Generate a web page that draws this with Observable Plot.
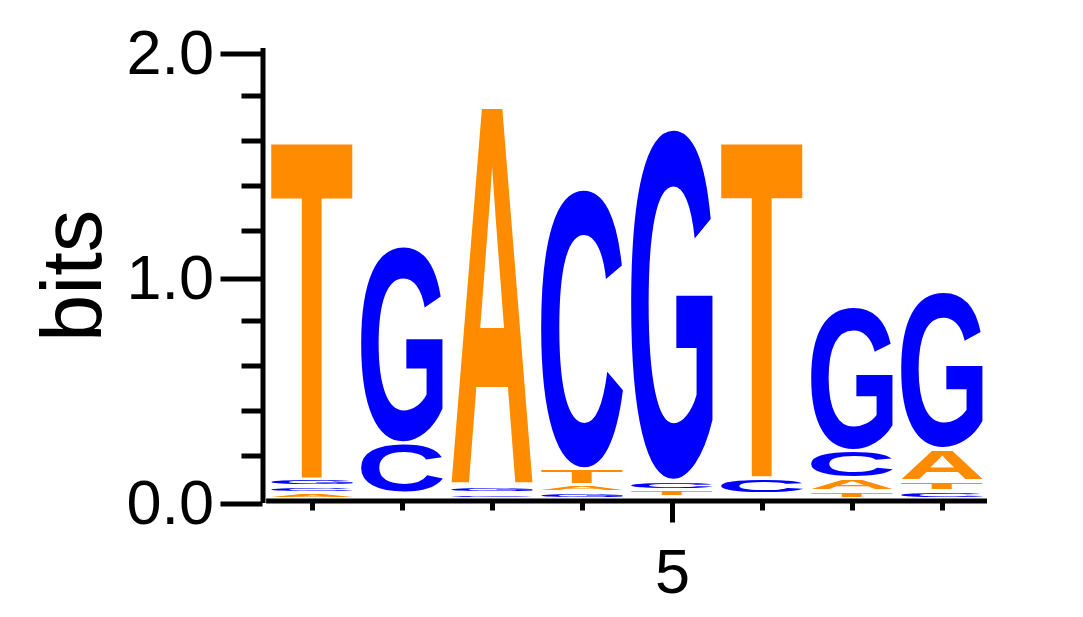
<!DOCTYPE html>
<html>
<head>
<meta charset="utf-8">
<script src="https://cdn.jsdelivr.net/npm/d3@7"></script>
<script src="https://cdn.jsdelivr.net/npm/@observablehq/plot@0.6"></script>
<style>
  html, body { margin: 0; padding: 0; background: white; }
</style>
</head>
<body>
<div id="chart"></div>
<script>
// Sequence logo data (information content in bits per letter)
const positions = [1, 2, 3, 4, 5, 6, 7, 8];
const bitsA = [0.027, 0.009, 1.692, 0.032, 0.008, 0.009, 0.055, 0.142];
const bitsC = [0.028, 0.225, 0.024, 1.248, 0.039, 0.070, 0.125, 0.034];
const bitsG = [0.030, 0.880, 0.028, 0.028, 1.567, 0.012, 0.645, 0.700];
const bitsT = [1.511, 0.012, 0.000, 0.071, 0.032, 1.505, 0.034, 0.044];
const letters = ["A", "C", "G", "T"];
const letterColors = {A: "#FF8C00", C: "#0000FF", G: "#0000FF", T: "#FF8C00"};
const yMajorTicks = [0, 1, 2];
const yMinorTicks = [0.2, 0.4, 0.6, 0.8, 1.2, 1.4, 1.6, 1.8];
const xLabelTicks = [5];

// Build stacked table: smallest letter at the bottom
const series = {A: bitsA, C: bitsC, G: bitsG, T: bitsT};
const table = [];
positions.forEach((pos, j) => {
  const col = letters.map(l => ({letter: l, bits: series[l][j]}))
    .sort((a, b) => a.bits - b.bits);
  let acc = 0;
  for (const c of col) {
    table.push({pos, letter: c.letter, y1: acc, y2: acc + c.bits});
    acc += c.bits;
  }
});

// Ink metrics of glyphs
const FONT = "Liberation Sans";
const FS = 200;
const cv = document.createElement("canvas");
const ctx = cv.getContext("2d");
ctx.font = `bold ${FS}px "${FONT}"`;
ctx.textAlign = "left";
ctx.textBaseline = "alphabetic";
const metrics = {};
for (const l of letters) {
  const m = ctx.measureText(l);
  metrics[l] = {L: m.actualBoundingBoxLeft, R: m.actualBoundingBoxRight,
                A: m.actualBoundingBoxAscent, D: m.actualBoundingBoxDescent};
}

const halfW = 0.455;  // half letter width in position units
const pad = 1.8;      // vertical gap (px) inside each letter box

function logoRender(index, scales, values, dimensions, context) {
  const g = d3.create("svg:g").attr("transform", "translate(0,-2)").attr("text-anchor", "start");
  for (const i of index) {
    const d = table[i];
    const bx0 = scales.x(d.pos - halfW), bx1 = scales.x(d.pos + halfW);
    const yb = scales.y(d.y1) - pad, yt = scales.y(d.y2) + pad;
    const h = yb - yt;
    if (h < 0.8) continue;
    const mt = metrics[d.letter];
    const sx = (bx1 - bx0) / (mt.L + mt.R);
    const sy = h / (mt.A + mt.D);
    const tx = bx0 + mt.L * sx;
    const ty = yb - mt.D * sy;
    g.append("text")
      .attr("font-family", FONT)
      .attr("font-weight", "bold")
      .attr("font-size", FS)
      .attr("text-anchor", "start")
      .attr("dominant-baseline", "alphabetic")
      .attr("fill", letterColors[d.letter])
      .attr("transform", `translate(${tx},${ty}) scale(${sx},${sy})`)
      .text(d.letter);
  }
  return g.node();
}

const noLabel = () => "";

const chart = Plot.plot({
  width: 1083,
  height: 617,
  marginLeft: 262.5,
  marginRight: 96,
  marginTop: 50.5,
  marginBottom: 116.5,
  style: {fontFamily: "Liberation Sans, Arial, sans-serif", background: "white", color: "black"},
  x: {type: "linear", domain: [0.45, 8.5]},
  y: {domain: [0, 2]},
  marks: [
    Plot.text(table, {x: "pos", y: "y1", text: "letter", render: logoRender}),
    Plot.axisY({ticks: yMinorTicks, tickSize: 21, strokeWidth: 5, tickFormat: noLabel, label: null}),
    Plot.axisY({ticks: yMajorTicks, tickSize: 42, tickPadding: 7, strokeWidth: 5,
                tickFormat: d3.format(".1f"), fontSize: 63, dy: 3, label: null}),
    Plot.axisX({ticks: positions, tickSize: 10, strokeWidth: 5, tickFormat: noLabel, label: null}),
    Plot.axisX({ticks: xLabelTicks, tickSize: 22, tickPadding: 25, strokeWidth: 5,
                tickFormat: d => String(d), fontSize: 63, label: null}),
    Plot.ruleY([0], {x1: 0.49, x2: 8.5, strokeWidth: 5}),
    Plot.ruleX([0.45], {y1: 0, y2: 2, strokeWidth: 5, strokeLinecap: "square"}),
    Plot.text(["bits"], {frameAnchor: "left", text: d => d, rotate: -90, dx: -189.5, dy: 66, fontSize: 85})
  ]
});
document.getElementById("chart").appendChild(chart);
</script>
</body>
</html>
